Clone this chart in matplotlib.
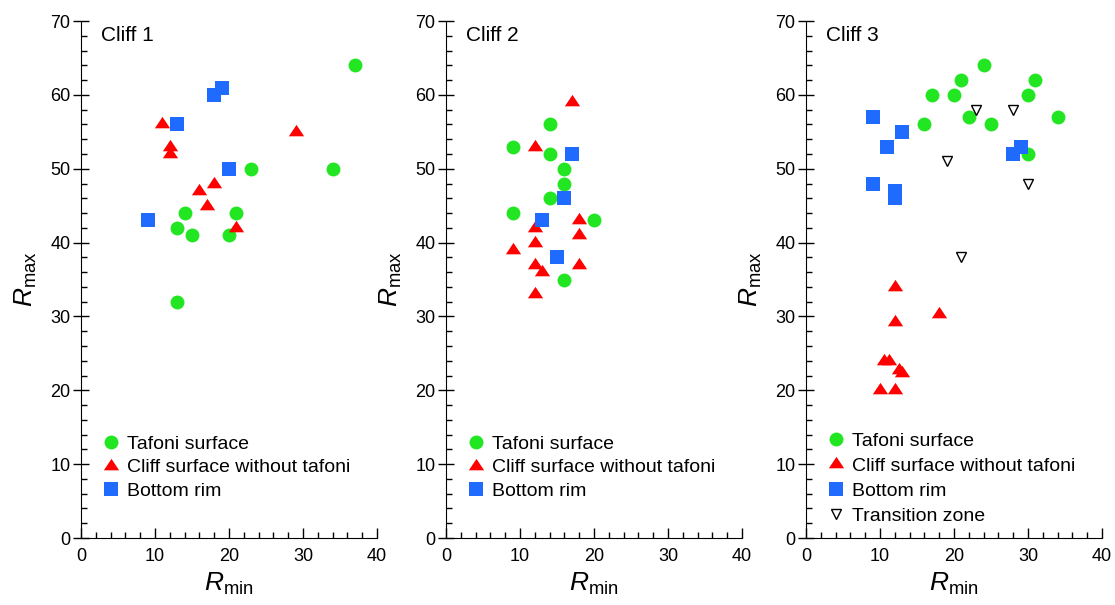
import matplotlib
matplotlib.use('Agg')
import matplotlib.pyplot as plt
from matplotlib.ticker import MultipleLocator

plt.rcParams['font.family'] = ['Liberation Sans', 'DejaVu Sans']
plt.rcParams['mathtext.fontset'] = 'custom'
plt.rcParams['mathtext.rm'] = 'Liberation Sans'
plt.rcParams['mathtext.it'] = 'Liberation Sans:italic'

# Cliff 1
c1_taf_x = [37, 23, 34, 14, 21, 13, 15, 20, 13]
c1_taf_y = [64, 50, 50, 44, 44, 42, 41, 41, 32]
c1_cliff_x = [11, 12, 12, 29, 18, 16, 17, 21]
c1_cliff_y = [56, 53, 52, 55, 48, 47, 45, 42]
c1_rim_x = [13, 19, 18, 20, 9]
c1_rim_y = [56, 61, 60, 50, 43]

# Cliff 2
c2_taf_x = [14, 9, 14, 16, 16, 14, 9, 20, 16]
c2_taf_y = [56, 53, 52, 50, 48, 46, 44, 43, 35]
c2_cliff_x = [17, 12, 18, 12, 18, 12, 9, 12, 13, 18, 12]
c2_cliff_y = [59, 53, 43, 42, 41, 40, 39, 37, 36, 37, 33]
c2_rim_x = [17, 16, 13, 15]
c2_rim_y = [52, 46, 43, 38]

# Cliff 3
c3_taf_x = [24, 21, 31, 17, 20, 30, 22, 34, 16, 25, 30]
c3_taf_y = [64, 62, 62, 60, 60, 60, 57, 57, 56, 56, 52]
c3_cliff_x = [12, 18, 12, 10.6, 11.2, 12.5, 13, 10, 12]
c3_cliff_y = [34, 30.3, 29.2, 24, 24, 22.8, 22.3, 20, 20]
c3_rim_x = [9, 13, 11, 29, 28, 9, 12, 12]
c3_rim_y = [57, 55, 53, 53, 52, 48, 47, 46]
c3_trans_x = [23, 28, 19, 30, 21]
c3_trans_y = [58, 58, 51, 48, 38]

GREEN = '#22e622'
RED = '#ff0000'
BLUE = '#1f6bff'
TRI = [(-1, -0.5), (1, -0.5), (0, 1)]

panels = [
    ('Cliff 1', c1_taf_x, c1_taf_y, c1_cliff_x, c1_cliff_y, c1_rim_x, c1_rim_y, None, None),
    ('Cliff 2', c2_taf_x, c2_taf_y, c2_cliff_x, c2_cliff_y, c2_rim_x, c2_rim_y, None, None),
    ('Cliff 3', c3_taf_x, c3_taf_y, c3_cliff_x, c3_cliff_y, c3_rim_x, c3_rim_y, c3_trans_x, c3_trans_y),
]
lefts = [0.0726, 0.400, 0.7229]
leg_anchor = [(0.07, 0.074), (0.07, 0.074), (0.07, 0.026)]
leg_spacing = [0.3, 0.3, 0.38]

fig = plt.figure(figsize=(11.15, 6.05), dpi=100)

for i, (title, tx, ty, cx, cy, rx, ry, zx, zy) in enumerate(panels):
    ax = fig.add_axes([lefts[i], 0.1107, 0.2655, 0.8545])
    ax.plot(tx, ty, ls='none', marker='o', ms=10, color=GREEN, mew=0, label='Tafoni surface')
    ax.plot(cx, cy, ls='none', marker=TRI, ms=11, color=RED, mew=0, label='Cliff surface without tafoni')
    ax.plot(rx, ry, ls='none', marker='s', ms=10, color=BLUE, mew=0, label='Bottom rim')
    if zx is not None:
        ax.plot(zx, zy, ls='none', marker='v', ms=7, mfc='white', mec='black', mew=1,
                label='Transition zone')

    ax.set_xlim(0, 40)
    ax.set_ylim(0, 70)
    ax.spines['top'].set_visible(False)
    ax.spines['right'].set_visible(False)
    ax.xaxis.set_major_locator(MultipleLocator(10))
    ax.xaxis.set_minor_locator(MultipleLocator(2))
    ax.yaxis.set_major_locator(MultipleLocator(10))
    ax.yaxis.set_minor_locator(MultipleLocator(2))
    ax.tick_params(axis='x', which='major', direction='in', length=7, width=1, labelsize=13, pad=7)
    ax.tick_params(axis='x', which='minor', direction='in', length=4, width=1)
    ax.tick_params(axis='y', which='major', direction='inout', length=11, width=1, labelsize=13, pad=2)
    ax.tick_params(axis='y', which='minor', direction='in', length=4, width=1)

    ax.set_xlabel(r'$R_{\mathrm{min}}$', fontsize=19, labelpad=4)
    ax.set_ylabel(r'$R_{\mathrm{max}}$', fontsize=19, labelpad=8)
    ax.text(0.068, 0.961, title, transform=ax.transAxes, fontsize=15, va='baseline', ha='left')

    ax.legend(loc='lower left', bbox_to_anchor=leg_anchor[i], frameon=False, fontsize=14,
              handletextpad=0.3, labelspacing=leg_spacing[i], borderpad=0, borderaxespad=0,
              handlelength=1.0, numpoints=1)

fig.savefig('out.png', dpi=100)
